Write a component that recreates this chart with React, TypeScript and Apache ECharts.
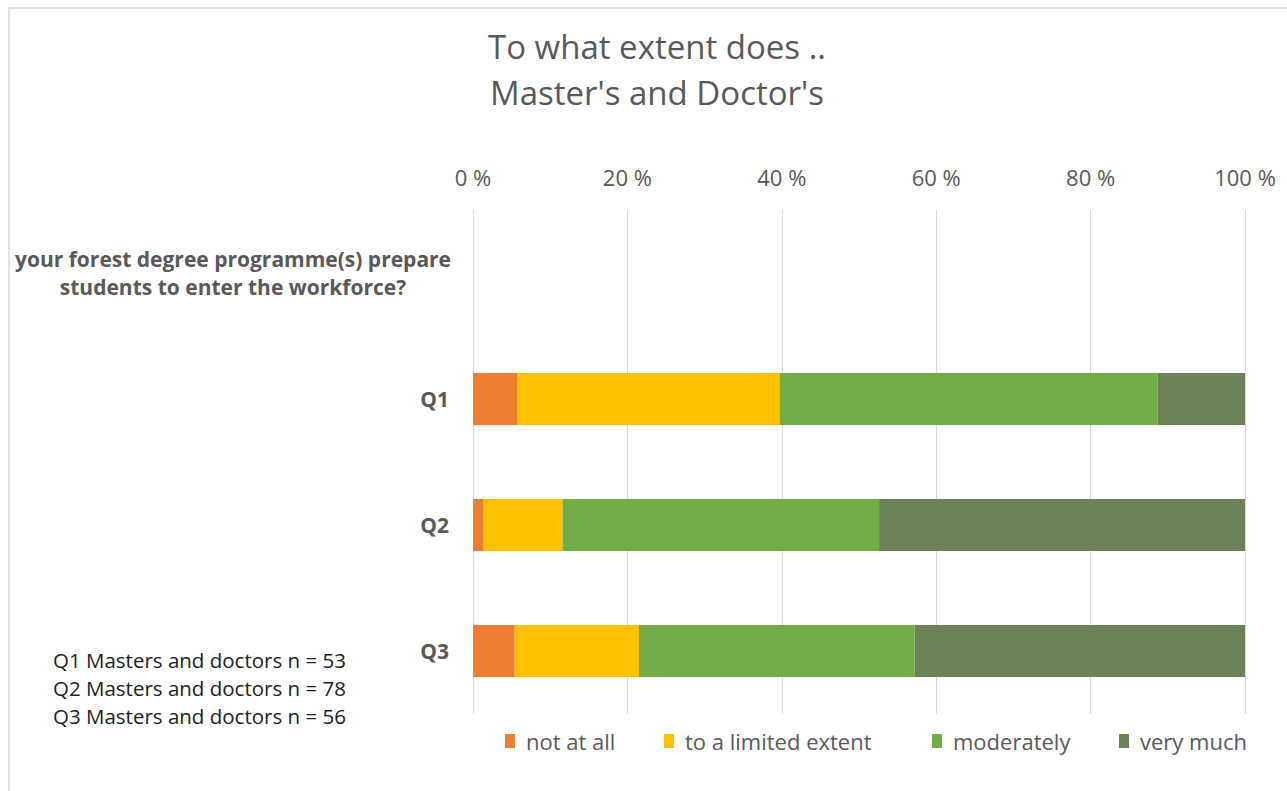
import React, { useEffect, useRef } from "react";
import * as echarts from "echarts";

const categories = ["header", "Q1", "Q2", "Q3"];
const headerText = "your forest degree programme(s) prepare\nstudents to enter the workforce?";
const seriesNames = ["not at all", "to a limited extent", "moderately", "very much"];
const notAtAll = [null, 5.7, 1.3, 5.4];
const limited = [null, 34.0, 10.3, 16.1];
const moderately = [null, 49.0, 41.0, 35.7];
const veryMuch = [null, 11.3, 47.4, 42.8];
const colors = ["#ED7D31", "#FFC000", "#70AD47", "#6A8255"];
const titleLines = ["To what extent does ..", "Master's and Doctor's"];
const notes = ["Q1 Masters and doctors n = 53", "Q2 Masters and doctors n = 78", "Q3 Masters and doctors n = 56"];

const legendLefts = [505, 664, 932, 1119];
const FONT = "'Open Sans', sans-serif";

export default function App() {
  const ref = useRef<HTMLDivElement>(null);
  useEffect(() => {
    const chart = echarts.init(ref.current!, null, { renderer: "svg" });
    const values = [notAtAll, limited, moderately, veryMuch];
    chart.setOption({
      animation: false,
      textStyle: { fontFamily: FONT },
      title: {
        text: titleLines.join("\n"),
        left: 652,
        textAlign: "center",
        top: 18,
        textStyle: { fontSize: 33, fontWeight: "normal", color: "#595959", lineHeight: 46, fontFamily: FONT },
      },
      grid: { left: 473, right: 42, top: 210, bottom: 77, containLabel: false },
      xAxis: {
        type: "value",
        position: "top",
        min: 0,
        max: 100,
        interval: 20,
        axisLine: { show: false },
        axisTick: { show: false },
        axisLabel: { formatter: "{value} %", color: "#595959", fontSize: 22, margin: 22 },
        splitLine: { lineStyle: { color: "#D9D9D9", width: 1 } },
      },
      yAxis: {
        type: "category",
        inverse: true,
        data: categories,
        axisLine: { show: false },
        axisTick: { show: false },
        axisLabel: {
          formatter: (v: string) => (v === "header" ? "" : v),
          color: "#595959",
          fontSize: 21,
          fontWeight: "bold",
          margin: 24,
        },
      },
      legend: seriesNames.map((name, i) => ({
        bottom: 39,
        left: legendLefts[i],
        padding: 0,
        itemWidth: 10,
        itemHeight: 14,
        icon: "rect",
        textStyle: { fontSize: 22, color: "#595959", fontFamily: FONT, padding: [0, 0, 0, 6] },
        data: [name],
      })),
      series: seriesNames.map((name, i) => ({
        name,
        type: "bar",
        stack: "total",
        barWidth: 52,
        itemStyle: { color: colors[i] },
        data: values[i],
      })),
      graphic: [
        {
          type: "text",
          x: 233,
          y: 273,
          style: {
            text: headerText,
            fontSize: 21,
            fontWeight: "bold",
            fill: "#595959",
            align: "center",
            verticalAlign: "middle",
            lineHeight: 28,
            fontFamily: FONT,
          },
        },
        ...notes.map((t, i) => ({
          type: "text",
          left: 53,
          top: 649 + i * 28,
          style: { text: t, fontSize: 20.5, fill: "#222222", fontFamily: FONT },
        })),
        {
          type: "rect",
          shape: { x: 9, y: 8, width: 1300, height: 800 },
          style: { fill: "none", stroke: "#D9D9D9", lineWidth: 1.5 },
          silent: true,
        },
      ],
    });
    return () => chart.dispose();
  }, []);
  return <div ref={ref} style={{ width: 1287, height: 791, position: "absolute", left: 0, top: 0 }} />;
}
